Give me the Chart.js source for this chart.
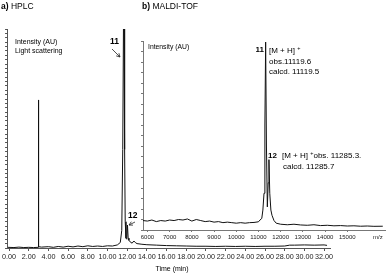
<!DOCTYPE html>
<html>
<head>
<meta charset="utf-8">
<script src="https://cdn.jsdelivr.net/npm/chart.js@4.4.0/dist/chart.umd.min.js"></script>
<style>
    body { margin: 0; background: #fff; }
    #wrap { position: relative; width: 388px; height: 274px; }
    #hplcChart { position: absolute; left: 0; top: 0; }
    #maldiChart { position: absolute; left: 130px; top: 30px; }
</style>
</head>
<body>
<div id="wrap">
    <canvas id="hplcChart" width="388" height="274"></canvas>
    <canvas id="maldiChart" width="258" height="220"></canvas>
</div>
<script>
const FONT = "'Liberation Sans', Arial, sans-serif";

// a) HPLC trace: time (min) / light scattering intensity (AU)
const hplcTime = [-0.1, 0.5, 1.0, 1.5, 2.0, 2.5, 2.97, 2.99, 3.01, 3.3, 4.0, 4.5, 5.0, 5.5, 6.0, 6.5,
    7.0, 7.5, 8.0, 8.5, 9.0, 9.5, 10.0, 10.5, 11.0, 11.3, 11.45, 11.55, 11.62, 11.68, 11.74, 11.8,
    11.88, 11.96, 12.03, 12.1, 12.18, 12.3, 12.5, 12.68, 12.85, 13.0, 13.5, 14.0, 15.0, 16.0, 17.0,
    18.0, 19.0, 20.0, 21.0, 22.0, 23.0, 24.0, 25.0, 26.0, 27.0, 28.0, 28.5, 29.0, 30.0, 31.0, 32.0, 32.3];
const hplcSignal = [0.3, 0.2, 0.4, 0.2, 0.3, 0.2, 0.3, 67.6, 0.6, 0.4, 0.6, 0.3, 0.7, 0.4, 0.8, 0.5,
    0.9, 0.6, 1.0, 0.7, 0.9, 0.7, 1.0, 0.9, 1.4, 2.5, 8, 45, 100, 100, 45, 12,
    4.5, 4, 10.5, 4.5, 3.5, 2.8, 2.2, 3.2, 2.4, 2.0, 1.7, 1.5, 1.3, 1.1, 1.0,
    0.9, 0.8, 0.8, 0.7, 0.8, 0.7, 0.8, 0.7, 0.8, 0.8, 0.9, 1.3, 1.3, 1.4, 1.3, 1.4, 1.2];
const hplcTicks = [0, 2, 4, 6, 8, 10, 12, 14, 16, 18, 20, 22, 24, 26, 28, 30, 32];

// b) MALDI-TOF spectrum: m/z / intensity (AU)
const maldiMz = [5800, 6000, 6200, 6400, 6600, 6800, 7000, 7200, 7400, 7600, 7800, 8000, 8200, 8400,
    8600, 8800, 9000, 9200, 9400, 9600, 9800, 10000, 10200, 10400, 10600, 10800, 11000, 11070, 11150,
    11200, 11250, 11290, 11324, 11360, 11400, 11440, 11473, 11510, 11560, 11610, 11700, 11800, 12000,
    12300, 12600, 12900, 13200, 13500, 13800, 14100, 14400, 14700, 15000, 15300, 15600, 15900, 16200, 16600];
const maldiIntensity = [0.9, 0.85, 0.95, 0.8, 0.9, 0.85, 0.95, 0.9, 1.0, 0.95, 1.05, 0.85, 1.0, 0.9,
    0.8, 0.85, 0.75, 0.8, 0.7, 0.75, 0.7, 0.65, 0.7, 0.65, 0.7, 0.72, 0.78, 0.95, 1.1,
    1.9, 3.5, 10, 17.9, 8, 2.2, 4.5, 6.7, 3.5, 1.9, 1.4, 0.9, 0.65, 0.55,
    0.5, 0.55, 0.48, 0.45, 0.5, 0.42, 0.45, 0.4, 0.42, 0.38, 0.4, 0.36, 0.38, 0.35, 0.36];
const maldiTicks = [6000, 7000, 8000, 9000, 10000, 11000, 12000, 13000, 14000, 15000];
const maldiUnitLabel = 'm/z';
const maldiUnitPos = 16380;

// draws a row of text pieces with their own weight / size / raise
function drawRuns(ctx, x, y, runs) {
    runs.forEach(r => {
        ctx.font = (r.bold ? 'bold ' : '') + r.size + 'px ' + FONT;
        ctx.fillText(r.text, x, y + (r.dy || 0));
        x += ctx.measureText(r.text).width;
    });
}

function drawArrow(ctx, x1, y1, x2, y2) {
    const ang = Math.atan2(y2 - y1, x2 - x1);
    ctx.beginPath();
    ctx.moveTo(x1, y1);
    ctx.lineTo(x2, y2);
    ctx.moveTo(x2 - 4 * Math.cos(ang - 0.5), y2 - 4 * Math.sin(ang - 0.5));
    ctx.lineTo(x2, y2);
    ctx.lineTo(x2 - 4 * Math.cos(ang + 0.5), y2 - 4 * Math.sin(ang + 0.5));
    ctx.stroke();
}

const hplcText = {
    id: 'hplcText',
    afterDraw(chart) {
        const ctx = chart.ctx;
        ctx.save();
        ctx.fillStyle = '#000';
        ctx.strokeStyle = '#222';
        ctx.lineWidth = 0.8;
        ctx.textBaseline = 'middle';
        drawRuns(ctx, 1, 7, [{ text: 'a)', bold: true, size: 8.5 }, { text: ' HPLC', size: 8.5 }]);
        drawRuns(ctx, 142, 7, [{ text: 'b)', bold: true, size: 8.5 }, { text: ' MALDI-TOF', size: 8.5 }]);
        drawRuns(ctx, 15, 42, [{ text: 'Intensity (AU)', size: 7 }]);
        drawRuns(ctx, 15, 51, [{ text: 'Light scattering', size: 7 }]);
        drawRuns(ctx, 110, 42, [{ text: '11', bold: true, size: 8.5 }]);
        drawArrow(ctx, 112, 49, 120, 57);
        drawRuns(ctx, 128, 216, [{ text: '12', bold: true, size: 8.5 }]);
        drawArrow(ctx, 135, 222, 129, 225);
        ctx.textAlign = 'center';
        drawRuns(ctx, 172, 269, [{ text: 'Time (min)', size: 7 }]);
        ctx.restore();
    }
};

const maldiText = {
    id: 'maldiText',
    afterDraw(chart) {
        const ctx = chart.ctx;
        ctx.save();
        ctx.fillStyle = '#000';
        ctx.textBaseline = 'middle';
        drawRuns(ctx, 18, 17, [{ text: 'Intensity (AU)', size: 6.8 }]);
        ctx.textAlign = 'right';
        drawRuns(ctx, 134, 20, [{ text: '11', bold: true, size: 8 }]);
        drawRuns(ctx, 147, 126, [{ text: '12', bold: true, size: 8 }]);
        ctx.textAlign = 'left';
        drawRuns(ctx, 139, 21, [{ text: '[M + H] ', size: 8 }, { text: '+', size: 5.5, dy: -2.5 }]);
        drawRuns(ctx, 139, 32, [{ text: 'obs.11119.6', size: 8 }]);
        drawRuns(ctx, 139, 42, [{ text: 'calcd. 11119.5', size: 8 }]);
        drawRuns(ctx, 152, 126, [{ text: '[M + H] ', size: 8 }, { text: '+', size: 5.5, dy: -2.5 },
            { text: 'obs. 11285.3.', size: 8 }]);
        drawRuns(ctx, 153, 137, [{ text: 'calcd. 11285.7', size: 8 }]);
        ctx.restore();
    }
};

function setupHplcChart() {
    const ctx = document.getElementById('hplcChart');
    new Chart(ctx, {
        type: 'line',
        data: {
            datasets: [{
                data: hplcTime.map((t, i) => ({ x: t, y: hplcSignal[i] })),
                borderColor: '#111',
                borderWidth: 1,
                pointRadius: 0,
                tension: 0
            }]
        },
        options: {
            responsive: false,
            animation: false,
            devicePixelRatio: 1,
            layout: { padding: { left: 0, top: 29, right: 58, bottom: 0 } },
            plugins: { legend: { display: false }, tooltip: { enabled: false } },
            scales: {
                x: {
                    type: 'linear',
                    min: -0.2,
                    max: 32.6,
                    afterBuildTicks: s => { s.ticks = hplcTicks.map(v => ({ value: v })); },
                    afterFit: s => { s.height = 26; },
                    border: { color: '#555', width: 1 },
                    grid: { drawOnChartArea: false, tickLength: 3, color: '#555' },
                    ticks: {
                        padding: 2,
                        color: '#222',
                        font: { family: FONT, size: 7.2 },
                        maxRotation: 0,
                        autoSkip: false,
                        callback: v => v.toFixed(2)
                    }
                },
                y: {
                    min: 0,
                    max: 100,
                    afterBuildTicks: s => {
                        const t = [];
                        for (let v = 0; v <= 100; v += 2) t.push({ value: v });
                        s.ticks = t;
                    },
                    afterFit: s => { s.width = 6; },
                    border: { color: '#555', width: 1 },
                    grid: { drawOnChartArea: false, tickLength: 2, color: '#555' },
                    ticks: { display: false }
                }
            }
        },
        plugins: [hplcText]
    });
}

function setupMaldiChart() {
    const ctx = document.getElementById('maldiChart');
    new Chart(ctx, {
        type: 'line',
        data: {
            datasets: [{
                data: maldiMz.map((m, i) => ({ x: m, y: maldiIntensity[i] })),
                borderColor: '#111',
                borderWidth: 1,
                pointRadius: 0,
                tension: 0
            }]
        },
        options: {
            responsive: false,
            animation: false,
            devicePixelRatio: 1,
            layout: { padding: { left: 0, top: 11, right: 3, bottom: 0 } },
            plugins: { legend: { display: false }, tooltip: { enabled: false } },
            scales: {
                x: {
                    type: 'linear',
                    min: 5800,
                    max: 16700,
                    afterBuildTicks: s => {
                        s.ticks = maldiTicks.map(v => ({ value: v })).concat([{ value: maldiUnitPos }]);
                    },
                    afterFit: s => { s.height = 20; },
                    border: { color: '#777', width: 1 },
                    grid: {
                        drawOnChartArea: false,
                        tickLength: 2,
                        color: c => (c.tick && c.tick.value === maldiUnitPos) ? 'rgba(0,0,0,0)' : '#777'
                    },
                    ticks: {
                        padding: 2,
                        color: '#222',
                        font: { family: FONT, size: 6 },
                        maxRotation: 0,
                        autoSkip: false,
                        callback: v => v === maldiUnitPos ? maldiUnitLabel : String(v)
                    }
                },
                y: {
                    min: 0,
                    max: 18,
                    afterBuildTicks: s => {
                        const t = [];
                        for (let v = 0; v <= 18; v++) t.push({ value: v });
                        s.ticks = t;
                    },
                    afterFit: s => { s.width = 13; },
                    border: { color: '#777', width: 1 },
                    grid: { drawOnChartArea: false, tickLength: 2, color: '#777' },
                    ticks: { display: false }
                }
            }
        },
        plugins: [maldiText]
    });
}

setupHplcChart();
setupMaldiChart();
</script>
</body>
</html>
